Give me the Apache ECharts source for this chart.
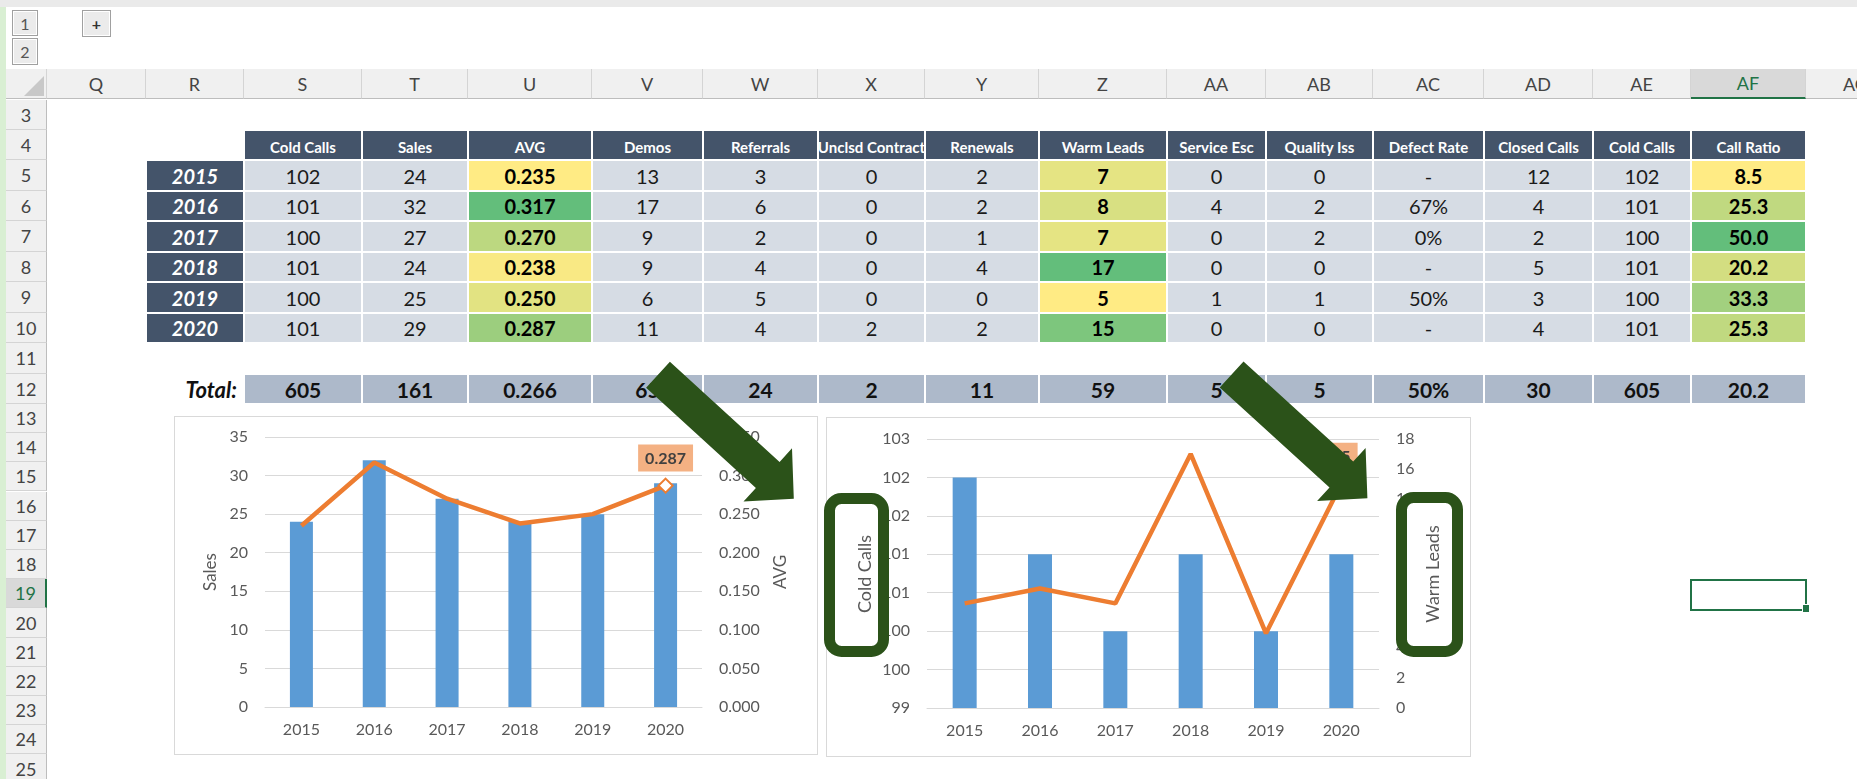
<!DOCTYPE html>
<html>
<head>
<meta charset="utf-8">
<script src="https://cdn.jsdelivr.net/npm/echarts@6/dist/echarts.min.js"></script>
<style>
html, body { margin: 0; padding: 0; width: 1857px; height: 779px; overflow: hidden; background: #fff; font-family: Lato, "Noto Sans", sans-serif; }
.abs { position: absolute; box-sizing: border-box; }
.cell { display: flex; align-items: center; justify-content: center; overflow: hidden; white-space: nowrap; }
.colhdr { background: #F0F0F0; border-right: 1px solid #D4D4D4; border-bottom: 1px solid #BDBDBD; color: #444; font-size: 18px; }
.colhdr.sel { background: #D9D9D9; color: #217346; border-bottom: 2px solid #217346; }
.rowhdr { background: #F0F0F0; border-bottom: 1px solid #D4D4D4; border-right: 1px solid #BDBDBD; color: #444; font-size: 18px; }
.rowhdr.sel { background: #D9D9D9; color: #217346; border-right: 2px solid #217346; }
.hdr { background: #44546A; color: #fff; font-weight: bold; font-size: 15px; align-items: flex-end; padding-bottom: 3px; }
.yr { background: #44546A; color: #fff; font-weight: bold; font-style: italic; font-size: 20px; }
.val { background: #D6DCE4; color: #1a1a1a; font-size: 20px; }
.val.b { font-weight: bold; color: #000; }
.tot { background: #ADB9CA; color: #111; font-weight: bold; font-size: 21px; }
.totlbl { justify-content: flex-end; padding-right: 7px; font-weight: bold; font-style: italic; font-size: 22px; color: #111; }
.btn { background: #EBEBEB; border: 1px solid #A0A0A0; box-shadow: inset 0 0 0 1px #fff; color: #555; font-size: 16px; }
.frame { background: #fff; border: 1px solid #D9D9D9; }
</style>
</head>
<body>
<div id="sheet"></div>
<div class="abs frame" style="left:174px;top:416px;width:644px;height:339px"></div>
<div class="abs frame" style="left:826px;top:417px;width:645px;height:340px"></div>
<div id="chartSales" class="abs" style="left:174px;top:416px;width:644px;height:339px"></div>
<div id="chartCalls" class="abs" style="left:816px;top:417px;width:660px;height:340px"></div>
<svg class="abs" style="left:0;top:0;z-index:10" width="1857" height="779">
  <polygon id="arrow" points="669.9,361.8 779.6,461.9 792.0,448.3 793.8,498.7 743.5,501.5 755.9,487.9 646.1,387.8" fill="#2b5219"/>
  <use href="#arrow" transform="translate(573.6,-0.4)"/>
</svg>
<script>
// 数据
var years = [2015, 2016, 2017, 2018, 2019, 2020];
var coldCalls = [102, 101, 100, 101, 100, 101];
var sales = [24, 32, 27, 24, 25, 29];
var avg = [0.235, 0.317, 0.270, 0.238, 0.250, 0.287];
var demos = [13, 17, 9, 9, 6, 11];
var referrals = [3, 6, 2, 4, 5, 4];
var unclsdContract = [0, 0, 0, 0, 0, 2];
var renewals = [2, 2, 1, 4, 0, 2];
var warmLeads = [7, 8, 7, 17, 5, 15];
var serviceEsc = [0, 4, 0, 0, 1, 0];
var qualityIss = [0, 2, 2, 0, 1, 0];
var defectRate = ['-', '67%', '0%', '-', '50%', '-'];
var closedCalls = [12, 4, 2, 5, 3, 4];
var callRatio = [8.5, 25.3, 50.0, 20.2, 33.3, 25.3];
var headers = ['Cold Calls', 'Sales', 'AVG', 'Demos', 'Referrals', 'Unclsd Contract', 'Renewals',
    'Warm Leads', 'Service Esc', 'Quality Iss', 'Defect Rate', 'Closed Calls', 'Cold Calls', 'Call Ratio'];
var totals = ['605', '161', '0.266', '65', '24', '2', '11', '59', '5', '5', '50%', '30', '605', '20.2'];
var colLetters = ['Q', 'R', 'S', 'T', 'U', 'V', 'W', 'X', 'Y', 'Z', 'AA', 'AB', 'AC', 'AD', 'AE', 'AF', 'AG'];

// 版面 (像素)
var colEdges = [47, 146, 244, 362, 468, 592, 703, 818, 925, 1039, 1167, 1266, 1373, 1484, 1593, 1691, 1806, 1906];

var fix3 = function (v) { return v.toFixed(3); };
var fix1 = function (v) { return v.toFixed(1); };
var tableCols = [
    {vals: coldCalls}, {vals: sales}, {vals: avg, fmt: fix3, scale: true}, {vals: demos},
    {vals: referrals}, {vals: unclsdContract}, {vals: renewals}, {vals: warmLeads, scale: true},
    {vals: serviceEsc}, {vals: qualityIss}, {vals: defectRate}, {vals: closedCalls},
    {vals: coldCalls}, {vals: callRatio, fmt: fix1, scale: true}
];

var sheet = document.getElementById('sheet');
function box(x, y, w, h, cls, text) {
    var d = document.createElement('div');
    d.className = 'abs ' + cls;
    d.style.left = Math.round(x) + 'px';
    d.style.top = Math.round(y) + 'px';
    d.style.width = (Math.round(x + w) - Math.round(x)) + 'px';
    d.style.height = (Math.round(y + h) - Math.round(y)) + 'px';
    if (text != null) {
        var s = document.createElement('span');
        s.textContent = text;
        d.appendChild(s);
    }
    sheet.appendChild(d);
    return d;
}
function rowTop(r) { return r <= 13 ? 99.5 + (r - 3) * 30.45 : 403.9 + (r - 13) * 29.2; }
function rowH(r) { return r < 13 ? 30.45 : 29.2; }

// 色阶: 黄 -> 绿
function scaleColor(v, vals) {
    var mn = Math.min.apply(null, vals), mx = Math.max.apply(null, vals);
    var t = (v - mn) / (mx - mn);
    var a = [255, 235, 132], b = [99, 190, 123];
    return 'rgb(' + a.map(function (c, i) { return Math.round(c + (b[i] - c) * t); }).join(',') + ')';
}

// 窗口外框
box(0, 0, 1857, 7, '', null).style.background = '#EAEAEA';
box(0, 7, 6, 772, '', null).style.background = '#D9EFD3';
box(12, 10, 26, 26, 'cell btn', '1');
box(12, 38, 26, 27, 'cell btn', '2');
var plus = box(82, 10, 29, 27, 'cell btn', '+');
plus.style.fontWeight = 'bold';
plus.style.color = '#333';

// 列标题
box(6, 69, 41, 30, 'colhdr', null).innerHTML =
    '<svg width="41" height="30"><polygon points="18,27 38,27 38,7" fill="#C8C8C8"/></svg>';
colLetters.forEach(function (c, i) {
    box(colEdges[i], 69, colEdges[i + 1] - colEdges[i], 30, 'cell colhdr' + (c === 'AF' ? ' sel' : ''), c);
});
// 行号
for (var r = 3; r <= 25; r++) {
    box(6, rowTop(r), 41, rowH(r), 'cell rowhdr' + (r === 19 ? ' sel' : ''), String(r));
}

// 表头
headers.forEach(function (h, j) {
    var x0 = colEdges[j + 2], x1 = colEdges[j + 3];
    box(x0 + 1, rowTop(4) + 1, x1 - x0 - 2, rowH(4) - 2, 'cell hdr', h);
});
// 数据行
years.forEach(function (y, i) {
    var r = 5 + i;
    box(colEdges[1] + 1, rowTop(r) + 1, colEdges[2] - colEdges[1] - 2, rowH(r) - 2, 'cell yr', String(y));
    tableCols.forEach(function (col, j) {
        var x0 = colEdges[j + 2], x1 = colEdges[j + 3];
        var v = col.vals[i];
        var d = box(x0 + 1, rowTop(r) + 1, x1 - x0 - 2, rowH(r) - 2, 'cell val' + (col.scale ? ' b' : ''),
            col.fmt ? col.fmt(v) : String(v));
        if (col.scale) d.style.background = scaleColor(v, col.vals);
    });
});
// 合计行
box(colEdges[1], rowTop(12) + 1, colEdges[2] - colEdges[1], rowH(12) - 2, 'cell totlbl', 'Total:');
totals.forEach(function (t, j) {
    var x0 = colEdges[j + 2], x1 = colEdges[j + 3];
    box(x0 + 1, rowTop(12) + 1, x1 - x0 - 2, rowH(12) - 2, 'cell tot', t);
});
// 选中单元格 AF19
var selCell = box(1690, 579, 117, 32, '', null);
selCell.style.border = '2px solid #217346';
box(1802, 604, 8, 9, '', null).style.cssText += 'background:#217346;border:1px solid #fff;';

// 图表
var labelColor = '#595959';
var gridColor = '#D9D9D9';
var barColor = '#5B9BD5';
var lineColor = '#ED7D31';
var calloutFill = '#F4B183';
var boxGreen = '#2b5219';
var tickStyle = {color: labelColor, fontSize: 16, fontFamily: 'Lato'};

function lineData(values, fmt) {
    return values.map(function (v, i) {
        if (i < values.length - 1) return v;
        return {
            value: v,
            symbol: 'diamond',
            symbolSize: 14,
            itemStyle: {color: '#fff', borderColor: lineColor, borderWidth: 2},
            label: {
                show: true, position: 'top', distance: 6,
                formatter: fmt(v),
                backgroundColor: calloutFill, padding: [6, 7, 5, 7],
                color: '#404040', fontWeight: 'bold', fontSize: 16, fontFamily: 'Lato'
            }
        };
    });
}
function xAxisOpt() {
    return {
        type: 'category',
        data: years.map(String),
        axisLine: {onZero: false, lineStyle: {color: gridColor, width: 1}},
        axisTick: {show: false},
        axisLabel: Object.assign({margin: 15}, tickStyle)
    };
}

var chartSales = echarts.init(document.getElementById('chartSales'));
chartSales.setOption({
    animation: false,
    textStyle: {fontFamily: 'Lato'},
    grid: {left: 91, top: 21, width: 437, height: 270},
    xAxis: xAxisOpt(),
    yAxis: [
        {
            type: 'value', min: 0, max: 35, interval: 5,
            name: 'Sales', nameLocation: 'middle', nameRotate: 90, nameGap: 44,
            nameTextStyle: {color: labelColor, fontSize: 17},
            axisLabel: Object.assign({margin: 17}, tickStyle),
            splitLine: {lineStyle: {color: gridColor, width: 1}}
        },
        {
            type: 'value', min: 0, max: 0.35, interval: 0.05, position: 'right',
            name: 'AVG', nameLocation: 'middle', nameRotate: 90, nameGap: 70,
            nameTextStyle: {color: labelColor, fontSize: 17},
            axisLabel: Object.assign({margin: 17, formatter: fix3}, tickStyle),
            splitLine: {show: false}
        }
    ],
    series: [
        {type: 'bar', data: sales, barWidth: 23, itemStyle: {color: barColor}},
        {
            type: 'line', yAxisIndex: 1, data: lineData(avg, fix3), symbol: 'none', z: 5,
            lineStyle: {color: lineColor, width: 4.5}, itemStyle: {color: lineColor}
        }
    ]
});

var chartCalls = echarts.init(document.getElementById('chartCalls'));
chartCalls.setOption({
    animation: false,
    textStyle: {fontFamily: 'Lato'},
    grid: {left: 111, top: 22, width: 452, height: 269},
    xAxis: xAxisOpt(),
    yAxis: [
        {
            type: 'value', min: 99, max: 102.5, interval: 0.5,
            axisLabel: Object.assign({margin: 17, formatter: function (v) { return String(Math.round(v)); }}, tickStyle),
            splitLine: {lineStyle: {color: gridColor, width: 1}}
        },
        {
            type: 'value', min: 0, max: 18, interval: 2, position: 'right',
            axisLabel: Object.assign({margin: 17}, tickStyle),
            splitLine: {show: false}
        }
    ],
    series: [
        {type: 'bar', data: coldCalls, barWidth: 24, clip: true, itemStyle: {color: barColor}},
        {
            type: 'line', yAxisIndex: 1, data: lineData(warmLeads, String), symbol: 'none', z: 5,
            lineStyle: {color: lineColor, width: 4.5}, itemStyle: {color: lineColor}
        }
    ],
    // 坐标轴标题外的绿色圆角框
    graphic: [
        {type: 'rect', x: 13.5, y: 81.5, shape: {width: 54, height: 153, r: 12}, z: 100,
            style: {fill: '#fff', stroke: boxGreen, lineWidth: 11}},
        {type: 'text', x: 49, y: 157, rotation: Math.PI / 2, z: 101,
            style: {text: 'Cold Calls', fill: labelColor, font: '18px Lato',
                align: 'center', verticalAlign: 'middle', textAlign: 'center', textVerticalAlign: 'middle'}},
        {type: 'rect', x: 585.5, y: 80.5, shape: {width: 56, height: 154, r: 12}, z: 100,
            style: {fill: '#fff', stroke: boxGreen, lineWidth: 11}},
        {type: 'text', x: 617, y: 157, rotation: Math.PI / 2, z: 101,
            style: {text: 'Warm Leads', fill: labelColor, font: '18px Lato',
                align: 'center', verticalAlign: 'middle', textAlign: 'center', textVerticalAlign: 'middle'}}
    ]
});
</script>
</body>
</html>
